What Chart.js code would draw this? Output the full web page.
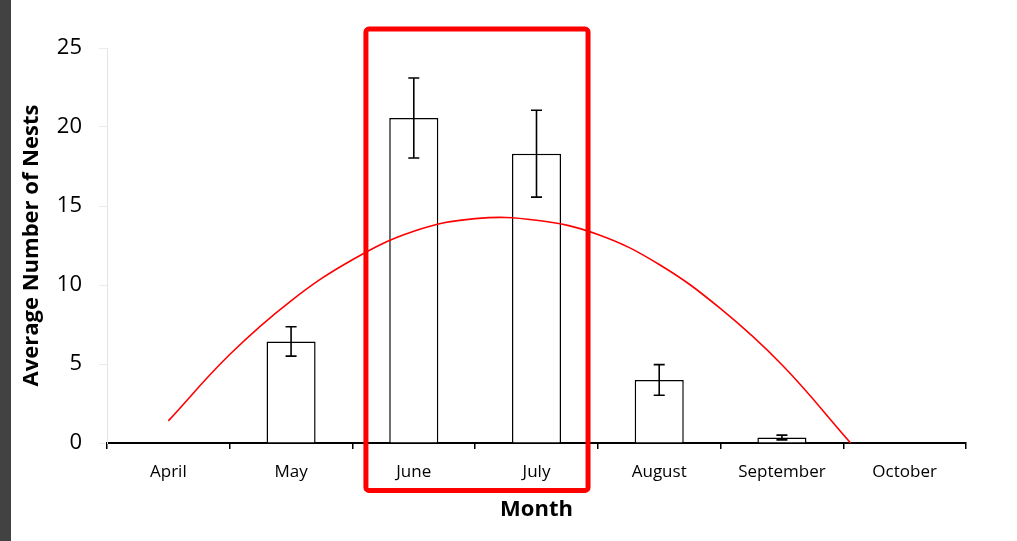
<!DOCTYPE html>
<html>
<head>
<meta charset="utf-8">
<script src="https://cdn.jsdelivr.net/npm/chart.js@4/dist/chart.umd.min.js"></script>
<style>
  html, body { margin: 0; padding: 0; background: #ffffff; }
  #wrap { position: relative; width: 1017px; height: 541px; }
  #stripe { position: absolute; left: 0; top: 0; width: 11px; height: 541px; background: #424242; }
  canvas { display: block; }
</style>
</head>
<body>
<div id="wrap">
  <canvas id="chart" width="1017" height="541"></canvas>
  <div id="stripe"></div>
</div>
<script>
// Monthly nest counts (mean ± error)
const months = ['April', 'May', 'June', 'July', 'August', 'September', 'October'];
const meanNests = [0, 6.43, 20.57, 18.31, 3.99, 0.35, 0];
const errNests = [0, 0.93, 2.53, 2.75, 0.97, 0.15, 0];

// Fitted seasonal trend, sampled along the month axis (0 = April)
const trendPos = [0, 0.5, 1.0, 1.5, 2.0, 2.5, 3.0, 3.5, 4.0, 4.5, 5.0, 5.56];
const trendVal = [1.4, 5.6, 9.0, 11.6, 13.4, 14.2, 14.1, 13.2, 11.3, 8.5, 4.95, 0];

// Y axis ticks
const yTicks = [0, 5, 10, 15, 20, 25];

// Peak-season highlight (month-axis position, value range)
const highlightMonths = [1.61, 3.42];
const highlightValues = [-3.0, 26.2];

const trendPoints = trendPos.map((p, i) => ({ x: p, y: trendVal[i] }));

const errorBarPlugin = {
  id: 'errorBars',
  afterDatasetsDraw(chart) {
    const ctx = chart.ctx;
    const xs = chart.scales.x, ys = chart.scales.y;
    ctx.save();
    ctx.strokeStyle = '#000000';
    ctx.lineWidth = 1.6;
    meanNests.forEach((m, i) => {
      const e = errNests[i];
      if (!e) return;
      const x = xs.getPixelForValue(i);
      const yTop = ys.getPixelForValue(m + e);
      const yBot = ys.getPixelForValue(m - e);
      const cap = 5.5;
      ctx.beginPath();
      ctx.moveTo(x, yTop); ctx.lineTo(x, yBot);
      ctx.moveTo(x - cap, yTop); ctx.lineTo(x + cap, yTop);
      ctx.moveTo(x - cap, yBot); ctx.lineTo(x + cap, yBot);
      ctx.stroke();
    });
    ctx.restore();
  }
};

const highlightPlugin = {
  id: 'highlightBox',
  afterDraw(chart) {
    const ctx = chart.ctx;
    const xt = chart.scales.xt, ys = chart.scales.y;
    const x0 = xt.getPixelForValue(highlightMonths[0]);
    const x1 = xt.getPixelForValue(highlightMonths[1]);
    const y0 = ys.getPixelForValue(highlightValues[1]);
    const y1 = ys.getPixelForValue(highlightValues[0]);
    ctx.save();
    ctx.strokeStyle = '#ff0000';
    ctx.lineWidth = 5;
    ctx.lineJoin = 'round';
    ctx.beginPath();
    ctx.roundRect(x0, y0, x1 - x0, y1 - y0, 3);
    ctx.stroke();
    ctx.restore();
  }
};

new Chart(document.getElementById('chart'), {
  data: {
    labels: months,
    datasets: [
      {
        type: 'line',
        data: trendPoints,
        xAxisID: 'xt',
        yAxisID: 'y',
        borderColor: '#ff0000',
        borderWidth: 1.6,
        pointRadius: 0,
        tension: 0.4,
        fill: false,
        clip: false,
        order: 0
      },
      {
        type: 'bar',
        data: meanNests,
        xAxisID: 'x',
        yAxisID: 'y',
        backgroundColor: '#ffffff',
        borderColor: '#000000',
        borderWidth: 1.5,
        borderSkipped: 'bottom',
        grouped: false,
        categoryPercentage: 1.0,
        barPercentage: 0.4,
        order: 1
      }
    ]
  },
  options: {
    responsive: false,
    animation: false,
    events: [],
    layout: { padding: { left: 0, right: 51, top: 48, bottom: 0 } },
    plugins: { legend: { display: false }, tooltip: { enabled: false } },
    scales: {
      x: {
        type: 'category',
        offset: true,
        afterFit(scale) { scale.height = 98; },
        border: { display: true, color: '#000000', width: 2 },
        grid: { offset: true, drawOnChartArea: false, drawTicks: true, tickLength: 6, color: '#000000', lineWidth: 1.5 },
        ticks: { color: '#000000', font: { family: 'Open Sans', size: 17 }, padding: 13, maxRotation: 0 },
        title: {
          display: true, text: 'Month', color: '#000000',
          font: { family: 'Open Sans', size: 22, weight: 'bold' },
          padding: { top: 0, bottom: 18 }
        }
      },
      xt: {
        type: 'linear',
        display: false,
        min: -0.5,
        max: 6.5
      },
      y: {
        min: 0,
        max: 25,
        afterFit(scale) { scale.width = 107; },
        afterBuildTicks(scale) { scale.ticks = yTicks.map(v => ({ value: v })); },
        border: { display: true, color: '#e4e4e4', width: 1 },
        grid: { drawOnChartArea: false, drawTicks: true, tickLength: 8, color: '#ececec' },
        ticks: { color: '#000000', font: { family: 'Open Sans', size: 22 }, padding: 17 },
        title: {
          display: true, text: 'Average Number of Nests', color: '#000000',
          font: { family: 'Open Sans', size: 22, weight: 'bold' },
          padding: { top: 19, bottom: 0 }
        }
      }
    }
  },
  plugins: [errorBarPlugin, highlightPlugin]
});
</script>
</body>
</html>
